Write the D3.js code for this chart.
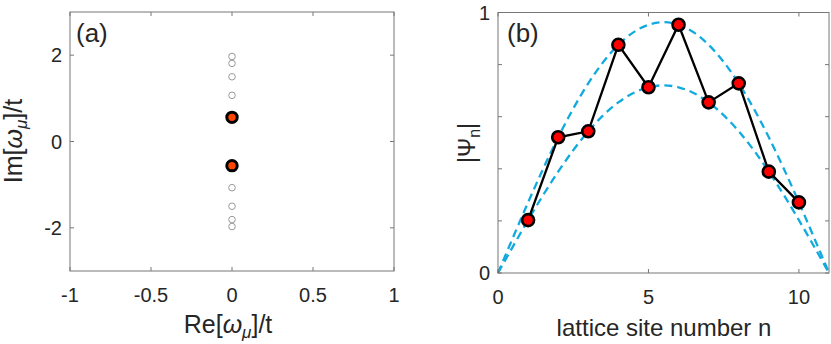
<!DOCTYPE html>
<html>
<head>
<meta charset="utf-8">
<script src="https://cdn.jsdelivr.net/npm/d3@7"></script>
<style>
  body { margin: 0; background: #fff; }
  svg { display: block; font-family: "Liberation Sans", Arial, sans-serif; }
</style>
</head>
<body>
<svg id="chart" width="831" height="344"></svg>
<script>
// panel (a): eigenvalues, Re = 0 for all of them
var eigOpenIm = [1.97, 1.81, 1.50, 1.07, -1.07, -1.50, -1.81, -1.97];
var eigFilledIm = [0.56, -0.56];

// panel (b): |Psi_n| on each lattice site
var sites = [1, 2, 3, 4, 5, 6, 7, 8, 9, 10];
var psiVals = [0.203, 0.521, 0.544, 0.876, 0.713, 0.953, 0.655, 0.728, 0.389, 0.271];

// dashed envelopes, read at n = 0..11
var envX = [0, 1, 2, 3, 4, 5, 6, 7, 8, 9, 10, 11];
var envUpper = [0, 0.271, 0.521, 0.728, 0.876, 0.953, 0.953, 0.876, 0.728, 0.521, 0.271, 0];
var envLower = [0, 0.203, 0.389, 0.544, 0.655, 0.713, 0.713, 0.655, 0.544, 0.389, 0.203, 0];

var ticksAx = [-1, -0.5, 0, 0.5, 1],
    ticksAy = [-2, 0, 2],
    ticksBx = [0, 5, 10],
    ticksBy = [0, 0.2, 0.4, 0.6, 0.8, 1];

var svg = d3.select("#chart");
var axisCol = "#777",
    textCol = "#262626";

// draws a MATLAB-ish box with inward ticks on all four sides
function drawBox(g, x, y, xt, yt, xfmt, yfmt) {
  var x0 = x.range()[0], x1 = x.range()[1],
      y0 = y.range()[0], y1 = y.range()[1];
  var tl = 4;

  g.append("rect")
   .attr("x", x0).attr("y", y1)
   .attr("width", x1 - x0).attr("height", y0 - y1)
   .attr("fill", "none")
   .attr("stroke", axisCol)
   .attr("stroke-width", 1);

  xt.forEach(function (d) {
    g.append("line").attr("x1", x(d)).attr("x2", x(d)).attr("y1", y0).attr("y2", y0 - tl)
     .attr("stroke", axisCol);
    g.append("line").attr("x1", x(d)).attr("x2", x(d)).attr("y1", y1).attr("y2", y1 + tl)
     .attr("stroke", axisCol);
    var s = xfmt(d);
    if (s !== "") {
      g.append("text").text(s)
       .attr("x", x(d)).attr("y", y0 + 31)
       .attr("text-anchor", "middle")
       .attr("font-size", "20px")
       .attr("fill", textCol);
    }
  });

  yt.forEach(function (d) {
    g.append("line").attr("x1", x0).attr("x2", x0 + tl).attr("y1", y(d)).attr("y2", y(d))
     .attr("stroke", axisCol);
    g.append("line").attr("x1", x1).attr("x2", x1 - tl).attr("y1", y(d)).attr("y2", y(d))
     .attr("stroke", axisCol);
    var s = yfmt(d);
    if (s !== "") {
      g.append("text").text(s)
       .attr("x", x0 - 8).attr("y", y(d))
       .attr("dy", "0.35em")
       .attr("text-anchor", "end")
       .attr("font-size", "20px")
       .attr("fill", textCol);
    }
  });
}

// ---------- panel (a) ----------
var xa = d3.scaleLinear().domain([-1, 1]).range([70, 394]);
var ya = d3.scaleLinear().domain([-3, 3]).range([271, 12]);
var ga = svg.append("g");

ga.selectAll("circle.open")
  .data(eigOpenIm)
  .enter()
  .append("circle")
  .attr("class", "open")
  .attr("cx", xa(0))
  .attr("cy", function (d) { return ya(d); })
  .attr("r", 3.3)
  .attr("fill", "none")
  .attr("stroke", "#9a9a9a")
  .attr("stroke-width", 1);

ga.selectAll("circle.filled")
  .data(eigFilledIm)
  .enter()
  .append("circle")
  .attr("class", "filled")
  .attr("cx", xa(0))
  .attr("cy", function (d) { return ya(d); })
  .attr("r", 5.2)
  .attr("fill", "#ff4500")
  .attr("stroke", "#000")
  .attr("stroke-width", 3);

drawBox(ga, xa, ya, ticksAx, ticksAy,
        function (d) { return String(d); },
        function (d) { return String(d); });

ga.append("text").text("(a)")
  .attr("x", 76).attr("y", 42)
  .attr("font-size", "26px")
  .attr("fill", textCol);

var xla = ga.append("text")
  .attr("x", 228).attr("y", 333)
  .attr("text-anchor", "middle")
  .attr("font-size", "25px")
  .attr("fill", textCol);
xla.append("tspan").text("Re[");
xla.append("tspan").text("ω").attr("font-style", "italic");
xla.append("tspan").text("μ").attr("font-style", "italic").attr("font-size", "17px").attr("dy", 5);
xla.append("tspan").text("]/t").attr("dy", -5);

var yla = ga.append("text")
  .attr("transform", "translate(22,141) rotate(-90)")
  .attr("text-anchor", "middle")
  .attr("font-size", "25px")
  .attr("fill", textCol);
yla.append("tspan").text("Im[");
yla.append("tspan").text("ω").attr("font-style", "italic");
yla.append("tspan").text("μ").attr("font-style", "italic").attr("font-size", "17px").attr("dy", 5);
yla.append("tspan").text("]/t").attr("dy", -5);

// ---------- panel (b) ----------
var xb = d3.scaleLinear().domain([0, 11]).range([498, 829]);
var yb = d3.scaleLinear().domain([0, 1]).range([273, 12.5]);
var gb = svg.append("g");

var envLine = d3.line()
  .x(function (d, i) { return xb(envX[i]); })
  .y(function (d) { return yb(d); })
  .curve(d3.curveNatural);

[envUpper, envLower].forEach(function (env) {
  gb.append("path")
    .attr("d", envLine(env))
    .attr("fill", "none")
    .attr("stroke", "#10aade")
    .attr("stroke-width", 2.3)
    .attr("stroke-dasharray", "8,5");
});

var psiLine = d3.line()
  .x(function (d, i) { return xb(sites[i]); })
  .y(function (d) { return yb(d); });

gb.append("path")
  .attr("d", psiLine(psiVals))
  .attr("fill", "none")
  .attr("stroke", "#000")
  .attr("stroke-width", 2.3);

gb.selectAll("circle")
  .data(psiVals)
  .enter()
  .append("circle")
  .attr("cx", function (d, i) { return xb(sites[i]); })
  .attr("cy", function (d) { return yb(d); })
  .attr("r", 6)
  .attr("fill", "#ff0000")
  .attr("stroke", "#000")
  .attr("stroke-width", 2.6);

drawBox(gb, xb, yb, ticksBx, ticksBy,
        function (d) { return String(d); },
        function (d) { return (d === 0 || d === 1) ? String(d) : ""; });

gb.append("text").text("(b)")
  .attr("x", 507).attr("y", 42)
  .attr("font-size", "26px")
  .attr("fill", textCol);

gb.append("text").text("lattice site number n")
  .attr("x", 664).attr("y", 336)
  .attr("text-anchor", "middle")
  .attr("font-size", "24px")
  .attr("fill", textCol);

var ylb = gb.append("text")
  .attr("transform", "translate(475,143) rotate(-90)")
  .attr("text-anchor", "middle")
  .attr("font-size", "23px")
  .attr("fill", textCol);
ylb.append("tspan").text("|Ψ");
ylb.append("tspan").text("n").attr("font-size", "16px").attr("dy", 5);
ylb.append("tspan").text("|").attr("dy", -5);
</script>
</body>
</html>
